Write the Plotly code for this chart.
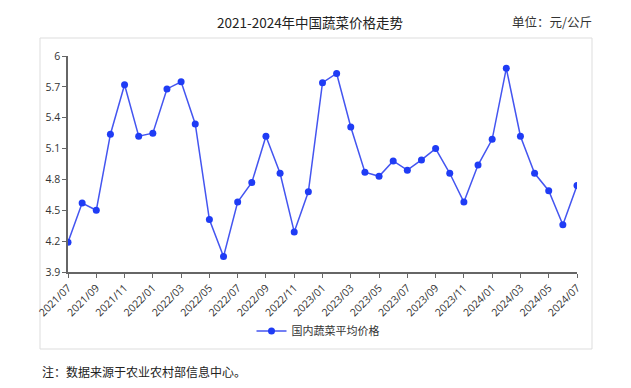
import plotly.graph_objects as go

months = ["2021/07","2021/08","2021/09","2021/10","2021/11","2021/12",
          "2022/01","2022/02","2022/03","2022/04","2022/05","2022/06",
          "2022/07","2022/08","2022/09","2022/10","2022/11","2022/12",
          "2023/01","2023/02","2023/03","2023/04","2023/05","2023/06",
          "2023/07","2023/08","2023/09","2023/10","2023/11","2023/12",
          "2024/01","2024/02","2024/03","2024/04","2024/05","2024/06","2024/07"]
prices = [4.19, 4.57, 4.50, 5.24, 5.72, 5.22, 5.25, 5.68, 5.75, 5.34, 4.41, 4.05,
          4.58, 4.77, 5.22, 4.86, 4.29, 4.68, 5.74, 5.83, 5.31, 4.87, 4.83, 4.98,
          4.89, 4.99, 5.10, 4.86, 4.58, 4.94, 5.19, 5.88, 5.22, 4.86, 4.69, 4.36, 4.74]
tick_labels = months[::2]
y_ticks = [3.9, 4.2, 4.5, 4.8, 5.1, 5.4, 5.7, 6.0]
y_tick_text = ["3.9", "4.2", "4.5", "4.8", "5.1", "5.4", "5.7", "6"]
series_name = "国内蔬菜平均价格"

W, H = 631, 388
OFF = 8  # page body margin
# desired plot area in screen pixels: x 68..577, y 56..272
L = 68 - OFF
T = 56 - OFF
R = W - (577 - OFF)
B = H - (272 - OFF)
pw, ph = W - L - R, H - T - B

def px_x(x):
    return (x - OFF - L) / pw

def px_y(y):
    return (H - B - (y - OFF)) / ph

fig = go.Figure()
fig.add_trace(go.Scatter(
    x=months, y=prices, mode="lines+markers", name=series_name,
    line=dict(color="#4455f0", width=1.5),
    marker=dict(color="#1f3cf5", size=7),
))

axis_font = dict(family="Open Sans, Noto Sans, sans-serif", size=10.5, color="#333")
fig.update_layout(
    width=W, height=H, autosize=False,
    margin=dict(l=L, r=R, t=T, b=B, autoexpand=False),
    paper_bgcolor="white", plot_bgcolor="white",
    showlegend=True,
    legend=dict(orientation="h", x=px_x(318), xanchor="center",
                y=px_y(331), yanchor="middle",
                font=dict(family="Noto Sans CJK SC", size=11, color="#333"),
                bgcolor="rgba(0,0,0,0)"),
    xaxis=dict(type="category", range=[0, len(months) - 1], automargin=False,
               tickmode="array", tickvals=tick_labels, ticktext=tick_labels,
               tickangle=-45, ticks="outside", ticklen=4, tickcolor="#666",
               showline=True, linecolor="#666", linewidth=1.5,
               showgrid=False, zeroline=False, tickfont=axis_font),
    yaxis=dict(range=[3.9, 6.0], tickmode="array", tickvals=y_ticks, automargin=False,
               ticktext=y_tick_text, ticks="outside", ticklen=4, tickcolor="#666",
               showline=True, linecolor="#666", linewidth=1.5,
               showgrid=False, zeroline=False, tickfont=axis_font),
    shapes=[dict(type="rect", xref="paper", yref="paper",
                 x0=px_x(40), x1=px_x(592), y0=px_y(349), y1=px_y(38),
                 line=dict(color="#dddddd", width=1), layer="below")],
    annotations=[
        dict(text="2021-2024年中国蔬菜价格走势", xref="paper", yref="paper",
             x=px_x(310), y=px_y(10), xanchor="center", yanchor="top",
             showarrow=False,
             font=dict(family="Noto Sans CJK SC", size=13.5, color="#222")),
        dict(text="单位：元/公斤", xref="paper", yref="paper",
             x=px_x(594), y=px_y(10), xanchor="right", yanchor="top",
             showarrow=False,
             font=dict(family="Noto Sans CJK SC", size=12.5, color="#333")),
        dict(text="注：数据来源于农业农村部信息中心。", xref="paper", yref="paper",
             x=px_x(40), y=px_y(371), xanchor="left", yanchor="middle",
             showarrow=False,
             font=dict(family="Noto Sans CJK SC", size=12, color="#222")),
    ],
)

fig.write_html("out.html")
